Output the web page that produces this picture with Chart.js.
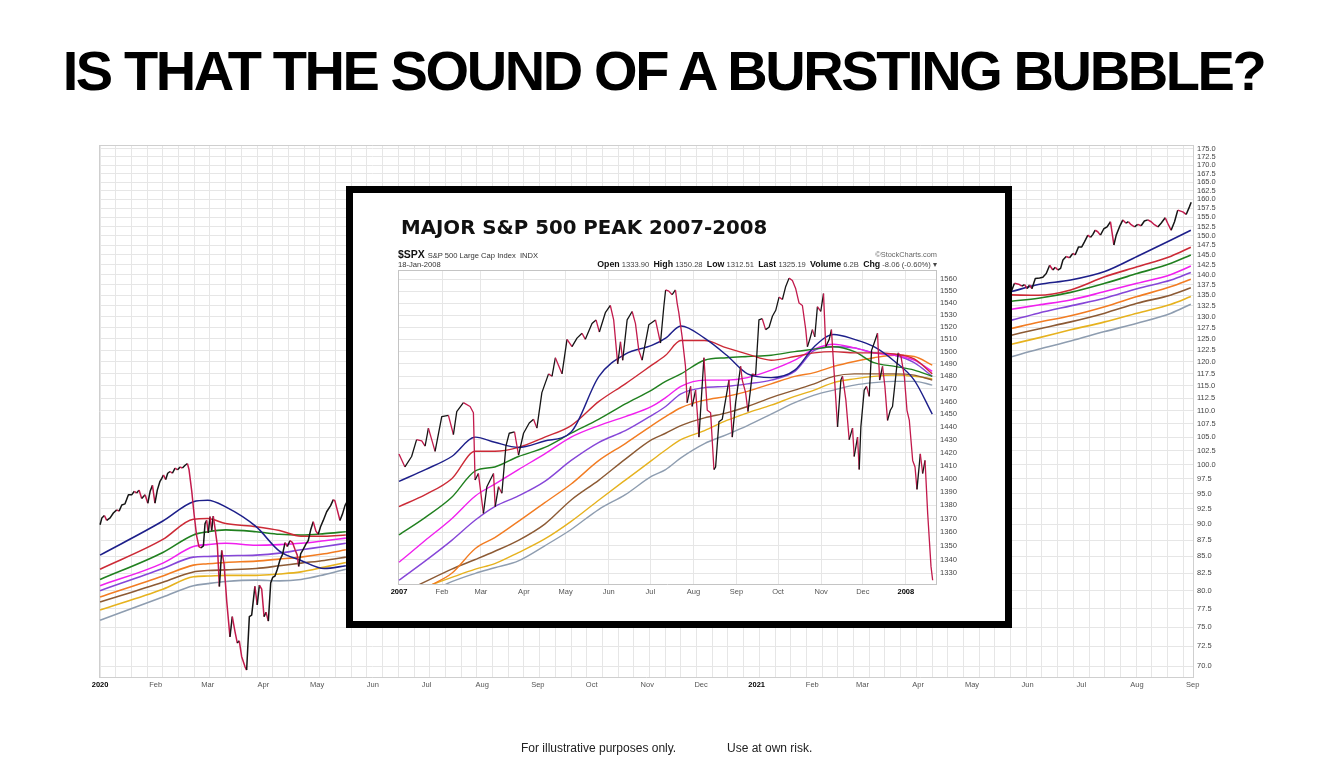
<!DOCTYPE html>
<html>
<head>
<meta charset="utf-8">
<script src="https://cdn.jsdelivr.net/npm/chart.js@4.4.1/dist/chart.umd.min.js"></script>
<style>
    body {
        margin: 0;
        width: 1341px;
        height: 776px;
        background: #fff;
        overflow: hidden;
        font-family: "Liberation Sans", Arial, sans-serif;
    }

    .abs {
        position: absolute;
        white-space: nowrap;
    }

    #headline {
        left: 0;
        top: 43px;
        width: 1327px;
        text-align: center;
        font-size: 56px;
        line-height: 56px;
        font-weight: bold;
        letter-spacing: -2.4px;
        color: #000;
    }

    #bgwrap {
        position: absolute;
        left: 0;
        top: 0;
        width: 1341px;
        height: 776px;
    }

    #frame {
        position: absolute;
        left: 346px;
        top: 186px;
        width: 666px;
        height: 442px;
        border: 7px solid #000;
        box-sizing: border-box;
        background: #fff;
    }

    #insetwrap {
        position: absolute;
        left: 353px;
        top: 193px;
        width: 652px;
        height: 428px;
    }

    #insettitle {
        left: 401px;
        top: 218px;
        font-family: "DejaVu Sans", sans-serif;
        font-weight: bold;
        font-size: 19.8px;
        line-height: 19.8px;
        color: #111;
    }

    #sym {
        left: 398px;
        top: 249px;
        font-size: 10px;
        line-height: 10px;
        color: #111;
    }

    #sym b {
        font-size: 10.5px;
    }

    #sym span {
        font-size: 7.6px;
        color: #333;
    }

    #date {
        left: 398px;
        top: 261px;
        font-size: 7.6px;
        line-height: 8px;
        color: #333;
    }

    #quote {
        right: 404px;
        top: 260px;
        font-size: 7.6px;
        line-height: 9px;
        color: #444;
    }

    #quote b {
        font-size: 8.8px;
        color: #111;
    }

    #credit {
        right: 404px;
        top: 251px;
        font-size: 7.4px;
        line-height: 8px;
        color: #666;
    }

    .foot {
        top: 742px;
        font-size: 12px;
        line-height: 12px;
        color: #222;
    }
</style>
</head>

<body>
    <div id="bgwrap"><canvas id="bgChart" width="1341" height="776"></canvas></div>
    <div class="abs" id="headline">IS THAT THE SOUND OF A BURSTING BUBBLE?</div>
    <div id="frame"></div>
    <div id="insetwrap"><canvas id="insetChart" width="652" height="428"></canvas></div>
    <div class="abs" id="insettitle">MAJOR S&amp;P 500 PEAK 2007-2008</div>
    <div class="abs" id="sym"><b>$SPX</b> <span>S&amp;P 500 Large Cap Index&nbsp; INDX</span></div>
    <div class="abs" id="date">18-Jan-2008</div>
    <div class="abs" id="credit">©StockCharts.com</div>
    <div class="abs" id="quote"><b>Open</b> 1333.90 &nbsp;<b>High</b> 1350.28 &nbsp;<b>Low</b> 1312.51 &nbsp;<b>Last</b> 1325.19 &nbsp;<b>Volume</b> 6.2B &nbsp;<b>Chg</b> -8.06 (-0.60%) ▾</div>
    <div class="abs foot" style="left:521px">For illustrative purposes only.</div>
    <div class="abs foot" style="left:727px">Use at own risk.</div>
</body>

<script>
    // ---- background chart (Jan 2020 - Sep 2021), x = days since 1 Jan 2020 ----
    var bgMonthDays = [0, 31, 60, 91, 121, 152, 182, 213, 244, 274, 305, 335, 366, 397, 425, 456, 486, 517, 547, 578, 609];
    var bgMonthLabels = ['2020', 'Feb', 'Mar', 'Apr', 'May', 'Jun', 'Jul', 'Aug', 'Sep', 'Oct', 'Nov', 'Dec',
        '2021', 'Feb', 'Mar', 'Apr', 'May', 'Jun', 'Jul', 'Aug', 'Sep'];
    var bgTicks = [70.0, 72.5, 75.0, 77.5, 80.0, 82.5, 85.0, 87.5, 90.0, 92.5, 95.0, 97.5, 100.0, 102.5, 105.0,
        107.5, 110.0, 112.5, 115.0, 117.5, 120.0, 122.5, 125.0, 127.5, 130.0, 132.5, 135.0, 137.5, 140.0, 142.5,
        145.0, 147.5, 150.0, 152.5, 155.0, 157.5, 160.0, 162.5, 165.0, 167.5, 170.0, 172.5, 175.0];

    var bgPriceLeftDays = [0, 1, 2.4, 3.7, 5.6, 7.4, 9.3, 10.6, 12.1, 13.9, 15.8, 17.6, 19.1, 20.4, 21.7, 23.2, 25.1,
        26.6, 27.9, 29.2, 30.6, 31.9, 33.4, 34.4, 35.3, 36.6, 37.7, 39, 40.3, 41.8, 43.2, 44.6, 45.9, 47.4, 48.7,
        49.6, 51.1, 52.4, 53.8, 55.1, 56.2, 57.6, 58.5, 59.4, 60.3, 61.3, 62.2, 63.1, 64.1, 65.4, 66.5, 67.8, 69.1,
        70.6, 72.4, 73.7, 75.2, 76.5, 77.6, 78.9, 80.8, 81.7, 83.2, 84.5, 86.3, 87.6, 88.8, 90.1, 91.4, 92.5, 93.8,
        95.1, 96.2, 97.5, 98.8, 100.3, 101.7, 103.1, 104.4, 105.8, 107.3, 108.6, 109.9, 110.7, 111.8, 113.3, 114.8,
        116, 117.4, 118.8, 120.3, 121.6, 122.9, 124.4, 126.3, 128.5, 130, 130.9, 132.2, 133.7, 135.2, 136.5, 137.4];
    var bgPriceLeft = [89.9, 91.0, 91.4, 90.6, 91.0, 91.8, 92.3, 92.1, 93.1, 93.3, 94.8, 94.8, 95.4, 95.1, 95.6,
        94.2, 94.8, 93.4, 95.4, 96.4, 93.4, 95.6, 97.1, 97.6, 98.2, 97.4, 98.5, 98.8, 98.5, 99.4, 99.1, 99.6, 99.4,
        99.9, 100.2, 99.1, 95.4, 91.6, 88.2, 86.5, 86.3, 86.6, 90.1, 90.6, 88.6, 91.2, 89.0, 91.3, 89.3, 86.6,
        80.6, 85.9, 83.9, 78.5, 73.7, 76.4, 74.4, 72.9, 73.2, 71.2, 69.9, 69.5, 76.4, 76.6, 80.6, 78.0, 80.8, 80.2,
        76.4, 77.0, 75.8, 81.1, 81.9, 82.1, 83.1, 84.5, 85.3, 87.1, 86.5, 87.4, 87.1, 86.1, 85.2, 83.5, 85.4, 86.1,
        86.9, 87.4, 89.1, 90.4, 88.9, 88.4, 89.6, 90.6, 92.0, 93.0, 94.0, 93.8, 92.3, 90.6, 91.7, 93.0, 93.5];

    var bgPriceRightDays = [507.9, 509.7, 512, 513.8, 515.3, 516.8, 518.1, 519.4, 521.3, 523.7, 525.5, 527.4, 529.3,
        531.1, 532.4, 533.9, 535.4, 536.7, 538.5, 540.4, 542.2, 543.5, 545.4, 547.2, 548.7, 550.6, 552.1, 553.4,
        554.7, 556.1, 557.6, 559.5, 561.3, 563.2, 565.1, 566.4, 568.2, 570.1, 571.9, 573.2, 574.7, 576.6, 578.4,
        580.3, 582.1, 584, 585.9, 587.7, 589.6, 591.4, 593.7, 595.1, 597, 598.9, 600.7, 603.5, 605.4, 607.2, 608.2];
    var bgPriceRight = [135.9, 137.9, 137.7, 137.2, 137.6, 136.6, 137.5, 136.6, 139.1, 139.2, 139.4, 140.3, 142.4,
        141.2, 141.9, 141.2, 141.6, 143.7, 144.6, 144.3, 145.4, 145.0, 147.1, 147.1, 148.4, 150.2, 149.6, 150.4,
        151.5, 151.1, 150.2, 151.9, 152.4, 153.8, 147.6, 150.2, 152.4, 154.3, 153.4, 153.8, 153.0, 152.4, 153.1,
        152.7, 154.0, 154.3, 153.8, 153.0, 152.4, 153.4, 154.9, 153.4, 151.5, 153.8, 157.0, 156.5, 155.8, 157.9, 159.2];

    // moving averages, the middle part is hidden behind the inset (null = no line)
    var bgMaDays = [0, 35, 52, 60, 70, 87, 100, 112, 125, 137, 320, 508, 523, 541, 560, 578, 597, 608];
    var bgBlue = [85.2, 90.5, 93.65, 93.9, 92.8, 89.6, 85.8, 84.4, 83.2, 83.6, null, 135.9, 137.6, 138.7, 140.8, 144.6, 148.9, 151.5];
    var bgRed = [83.1, 87.6, 90.8, 90.9, 90.1, 89.6, 89.0, 88.1, 88.1, 88.3, null, 135.1, 135.0, 136.3, 139.5, 142.0, 144.7, 147.0];
    var bgGreen = [81.6, 85.6, 88.3, 88.8, 89.1, 88.8, 88.4, 88.3, 88.5, 88.8, null, 133.6, 134.3, 135.7, 137.9, 140.3, 142.9, 145.0];
    var bgMagenta = [80.7, 84.0, 86.5, 86.8, 87.0, 86.7, 86.8, 87.0, 87.4, 87.8, null, 131.7, 132.7, 133.9, 135.9, 137.9, 140.1, 142.2];
    var bgPurple = [80.0, 83.2, 84.9, 85.0, 85.1, 85.2, 85.5, 86.0, 86.5, 87.0, null, 129.2, 130.8, 132.5, 134.3, 136.6, 138.7, 140.6];
    var bgOrange = [79.1, 82.1, 83.7, 83.9, 84.1, 84.3, 84.6, 84.9, 85.4, 86.0, null, 127.3, 128.7, 130.2, 132.3, 134.7, 137.1, 138.9];
    var bgBrown = [78.4, 81.2, 82.7, 82.9, 83.0, 83.2, 83.6, 84.0, 84.4, 84.9, null, 125.8, 127.2, 128.8, 130.8, 133.1, 135.1, 136.8];
    var bgYellow = [77.3, 80.2, 82.0, 82.1, 82.2, 82.2, 82.4, 82.7, 83.4, 84.1, null, 123.8, 125.2, 127.0, 128.8, 130.8, 132.9, 134.7];
    var bgGray = [75.9, 79.1, 80.7, 81.0, 81.3, 81.5, 81.4, 81.6, 82.3, 83.1, null, 121.1, 122.7, 124.5, 126.6, 128.5, 130.8, 132.9];

    // ---- inset chart ($SPX 2007 - Jan 2008), x = days since 1 Jan 2007 ----
    var insetMonthDays = [0, 31, 59, 90, 120, 151, 181, 212, 243, 273, 304, 334, 365];
    var insetMonthLabels = ['2007', 'Feb', 'Mar', 'Apr', 'May', 'Jun', 'Jul', 'Aug', 'Sep', 'Oct', 'Nov', 'Dec', '2008'];
    var insetTicks = [1330, 1340, 1350, 1360, 1370, 1380, 1390, 1400, 1410, 1420, 1430, 1440, 1450, 1460, 1470,
        1480, 1490, 1500, 1510, 1520, 1530, 1540, 1550, 1560];

    var insetPriceDays = [0, 4.3, 9.1, 12.7, 16.4, 18.8, 21.2, 26, 30.8, 35.6, 39.2, 41.6, 46.4, 51.2, 53.6, 54.8,
        57.2, 60.8, 63.3, 65.7, 68.1, 69.3, 71.7, 74.1, 77, 79.4, 83.2, 86.1, 89.7, 93.8, 96.9, 99.3, 102.9, 107.7,
        110.2, 112.6, 117.4, 121, 124.6, 128.2, 131.8, 134.2, 139, 141.9, 144.3, 148.6, 152.2, 154.6, 157.5, 159.5,
        161.1, 164.3, 167.9, 170.3, 172.7, 175.1, 179.9, 184.7, 188.3, 190.7, 192, 194.3, 196.7, 199.1, 200.3,
        201.5, 203.9, 206.3, 207.5, 210, 211.1, 213.6, 214.8, 216, 218.4, 219.6, 222, 224.4, 226.8, 228, 230.4,
        232.8, 236.4, 237.6, 240, 242.4, 246, 247.2, 249.6, 251.3, 254.4, 256.8, 259.2, 261.6, 264, 266.5, 268.9,
        271.3, 273.7, 276.1, 278.5, 280.9, 283.3, 285.7, 288.1, 290.5, 292.9, 294.1, 295.8, 297.7, 299.4, 301.3,
        303.7, 305.7, 307.3, 309.8, 311.4, 313.4, 315.8, 318.2, 319.4, 321.8, 324.2, 326.6, 327.8, 330.2, 331.4,
        332.6, 335, 336.7, 338.6, 340.3, 342.2, 344.6, 346.1, 348.2, 349.9, 351.8, 353.8, 355.4, 357.9, 359.5,
        361.5, 363.9, 365.8, 367.5, 369.9, 371.6, 373, 375.4, 377.1, 378.8, 380.7, 383.1, 384.3];
    var insetPrice = [1419, 1409, 1417, 1430, 1429, 1425, 1439, 1421, 1448, 1449, 1434, 1452, 1459, 1456, 1451, 1399,
        1404, 1374, 1394, 1399, 1404, 1379, 1394, 1389, 1425, 1435, 1436, 1418, 1435, 1443, 1446, 1439, 1467, 1482,
        1480, 1495, 1482, 1510, 1504, 1511, 1515, 1510, 1523, 1526, 1516, 1532, 1538, 1526, 1490, 1508, 1493, 1526,
        1533, 1523, 1501, 1493, 1522, 1526, 1507, 1537, 1551, 1550, 1547, 1551, 1540, 1532, 1512, 1488, 1459, 1472,
        1456, 1469, 1451, 1432, 1474, 1495, 1453, 1451, 1407, 1409, 1444, 1446, 1469, 1477, 1432, 1459, 1488, 1477,
        1467, 1452, 1482, 1481, 1526, 1527, 1518, 1520, 1529, 1534, 1545, 1543, 1554, 1561, 1559, 1552, 1540, 1538,
        1518, 1504, 1510, 1518, 1512, 1537, 1533, 1548, 1504, 1510, 1518, 1482, 1440, 1477, 1480, 1461, 1430, 1439,
        1417, 1432, 1407, 1440, 1469, 1472, 1464, 1501, 1507, 1515, 1477, 1488, 1472, 1445, 1453, 1456, 1482, 1499,
        1496, 1480, 1453, 1445, 1414, 1409, 1392, 1419, 1404, 1414, 1374, 1335, 1325];

    var insetMaDays = [0, 19, 38, 55, 69, 86, 105, 124, 144, 163, 182, 192, 203, 220, 236, 251, 268, 285, 299, 313, 328, 342, 357, 371, 384];
    var insetBlue = [1398, 1407, 1417, 1432, 1428, 1424, 1429, 1436, 1480, 1498, 1505, 1511, 1521, 1511, 1497, 1482, 1479, 1485, 1504, 1514, 1510, 1504, 1492, 1477, 1450];
    var insetRed = [1379, 1388, 1400, 1421, 1421, 1424, 1432, 1441, 1460, 1474, 1489, 1497, 1509, 1509, 1503, 1498, 1493, 1496, 1499, 1500, 1499, 1499, 1498, 1494, 1482];
    var insetGreen = [1358, 1371, 1386, 1406, 1409, 1417, 1424, 1435, 1446, 1458, 1469, 1476, 1482, 1493, 1495, 1496, 1497, 1500, 1502, 1504, 1500, 1491, 1488, 1485, 1480];
    var insetMagenta = [1338, 1354, 1370, 1387, 1396, 1407, 1419, 1432, 1441, 1448, 1456, 1463, 1472, 1477, 1477, 1479, 1485, 1493, 1502, 1506, 1503, 1499, 1497, 1493, 1484];
    var insetPurple = [1325, 1339, 1354, 1369, 1379, 1387, 1398, 1414, 1428, 1437, 1449, 1456, 1466, 1471, 1472, 1474, 1477, 1484, 1501, 1504, 1503, 1499, 1497, 1491, 1480];
    var insetOrange = [1303, 1319, 1330, 1348, 1356, 1368, 1382, 1396, 1414, 1427, 1441, 1448, 1455, 1461, 1464, 1468, 1474, 1480, 1483, 1488, 1492, 1495, 1497, 1496, 1489];
    var insetBrown = [1315, 1324, 1333, 1340, 1346, 1354, 1366, 1384, 1399, 1415, 1430, 1435, 1441, 1447, 1451, 1456, 1463, 1469, 1474, 1480, 1482, 1482, 1482, 1481, 1477];
    var insetYellow = [1312, 1320, 1327, 1333, 1337, 1345, 1355, 1368, 1384, 1399, 1414, 1422, 1430, 1437, 1445, 1451, 1457, 1464, 1469, 1475, 1478, 1480, 1481, 1480, 1478];
    var insetGray = [1307, 1315, 1324, 1330, 1334, 1339, 1350, 1362, 1377, 1388, 1402, 1407, 1416, 1427, 1434, 1441, 1450, 1459, 1465, 1469, 1473, 1475, 1476, 1476, 1473];

    // ---- styles ----
    var FONT = '"Liberation Sans", Arial, sans-serif';
    var UP = '#151515';
    var DOWN = '#c21a4c';
    var COLORS = {
        blue: '#1d1f8a', red: '#cc2a36', green: '#20801f', magenta: '#f020ee', purple: '#8646d8',
        orange: '#f27c22', brown: '#8c5a34', yellow: '#e6b21e', gray: '#8e9db0'
    };

    function points(days, vals) {
        return days.map(function (d, i) { return { x: d, y: vals[i] }; });
    }

    function priceSet(days, vals, w) {
        return {
            data: points(days, vals), borderColor: UP, borderWidth: w, order: 0,
            segment: {
                borderColor: function (c) { return c.p1.parsed.y < c.p0.parsed.y ? DOWN : UP; }
            }
        };
    }

    function maSet(days, vals, color, w) {
        return {
            data: points(days, vals), borderColor: color, borderWidth: w, order: 1, spanGaps: false,
            cubicInterpolationMode: 'monotone'
        };
    }

    function tickFont(labels) {
        return function (c) {
            var isYear = /^\d{4}$/.test(labels[c.index] || '');
            return { family: FONT, size: 7.5, weight: isYear ? 'bold' : 'normal' };
        };
    }

    function tickColor(labels) {
        return function (c) { return /^\d{4}$/.test(labels[c.index] || '') ? '#000' : '#555'; };
    }

    var common = {
        responsive: false,
        animation: false,
        events: [],
        elements: { point: { radius: 0 }, line: { tension: 0, borderJoinStyle: 'round' } },
        plugins: { legend: { display: false }, tooltip: { enabled: false } }
    };

    // background chart
    var bgMaList = [[bgBlue, 'blue'], [bgRed, 'red'], [bgGreen, 'green'], [bgMagenta, 'magenta'], [bgPurple, 'purple'],
        [bgOrange, 'orange'], [bgBrown, 'brown'], [bgYellow, 'yellow'], [bgGray, 'gray']];
    var bgSets = [priceSet(bgPriceLeftDays, bgPriceLeft, 1.5), priceSet(bgPriceRightDays, bgPriceRight, 1.5)];
    bgMaList.forEach(function (m) { bgSets.push(maSet(bgMaDays, m[0], COLORS[m[1]], 1.6)); });

    new Chart(document.getElementById('bgChart'), {
        type: 'line',
        data: { datasets: bgSets },
        options: Object.assign({}, common, {
            layout: { padding: { left: 99, top: 145, right: 120, bottom: 85 } },
            scales: {
                x: {
                    type: 'linear', position: 'bottom', min: -0.6, max: 609.2,
                    afterBuildTicks: function (s) { s.ticks = bgMonthDays.map(function (v) { return { value: v }; }); },
                    afterFit: function (s) { s.height = 14; },
                    grid: { display: false, drawTicks: false },
                    border: { display: true, color: '#cfcfcf' },
                    ticks: {
                        padding: 3, maxRotation: 0, autoSkip: false,
                        callback: function (v, i) { return bgMonthLabels[i]; },
                        font: tickFont(bgMonthLabels), color: tickColor(bgMonthLabels)
                    }
                },
                xg: {
                    type: 'linear', position: 'top', min: -0.6, max: 609.2,
                    afterBuildTicks: function (s) {
                        var t = [];
                        for (var d = 0; d <= 609; d += 8.75) t.push({ value: d });
                        s.ticks = t;
                    },
                    afterFit: function (s) { s.height = 0; },
                    ticks: { display: false },
                    grid: { color: '#e6e6e6', drawTicks: false },
                    border: { display: true, color: '#cfcfcf' }
                },
                y: {
                    type: 'logarithmic', position: 'right', min: 68.65, max: 176.2,
                    afterBuildTicks: function (s) { s.ticks = bgTicks.map(function (v) { return { value: v }; }); },
                    afterFit: function (s) { s.width = 28; },
                    grid: { color: '#e6e6e6', drawTicks: false },
                    border: { display: true, color: '#cfcfcf' },
                    ticks: {
                        padding: 4, autoSkip: false,
                        callback: function (v) { return Number(v).toFixed(1); },
                        font: { family: FONT, size: 7.5 }, color: '#444'
                    }
                },
                yg: {
                    type: 'linear', position: 'left', min: 0, max: 1,
                    afterFit: function (s) { s.width = 0; },
                    ticks: { display: false },
                    grid: { display: false, drawTicks: false },
                    border: { display: true, color: '#cfcfcf' }
                }
            }
        })
    });

    // inset chart
    var insetMaList = [[insetBlue, 'blue'], [insetRed, 'red'], [insetGreen, 'green'], [insetMagenta, 'magenta'],
        [insetPurple, 'purple'], [insetOrange, 'orange'], [insetBrown, 'brown'], [insetYellow, 'yellow'], [insetGray, 'gray']];
    var insetSets = [priceSet(insetPriceDays, insetPrice, 1.3)];
    insetMaList.forEach(function (m) { insetSets.push(maSet(insetMaDays, m[0], COLORS[m[1]], 1.4)); });

    new Chart(document.getElementById('insetChart'), {
        type: 'line',
        data: { datasets: insetSets },
        options: Object.assign({}, common, {
            layout: { padding: { left: 45, top: 77, right: 43, bottom: 23 } },
            scales: {
                x: {
                    type: 'linear', position: 'bottom', min: -0.7, max: 386.7,
                    afterBuildTicks: function (s) { s.ticks = insetMonthDays.map(function (v) { return { value: v }; }); },
                    afterFit: function (s) { s.height = 14; },
                    grid: { color: '#e6e6e6', drawTicks: false },
                    border: { display: true, color: '#c4c4c4' },
                    ticks: {
                        padding: 3, maxRotation: 0, autoSkip: false,
                        callback: function (v, i) { return insetMonthLabels[i]; },
                        font: tickFont(insetMonthLabels), color: tickColor(insetMonthLabels)
                    }
                },
                y: {
                    type: 'logarithmic', position: 'right', min: 1322.3, max: 1567.9,
                    afterBuildTicks: function (s) { s.ticks = insetTicks.map(function (v) { return { value: v }; }); },
                    afterFit: function (s) { s.width = 26; },
                    grid: { color: '#e6e6e6', drawTicks: false },
                    border: { display: true, color: '#c4c4c4' },
                    ticks: {
                        padding: 4, autoSkip: false,
                        callback: function (v) { return String(Math.round(v)); },
                        font: { family: FONT, size: 7.6 }, color: '#444'
                    }
                },
                xt: {
                    type: 'linear', position: 'top', min: 0, max: 1,
                    afterFit: function (s) { s.height = 0; },
                    ticks: { display: false },
                    grid: { display: false, drawTicks: false },
                    border: { display: true, color: '#c4c4c4' }
                },
                yl: {
                    type: 'linear', position: 'left', min: 0, max: 1,
                    afterFit: function (s) { s.width = 0; },
                    ticks: { display: false },
                    grid: { display: false, drawTicks: false },
                    border: { display: true, color: '#c4c4c4' }
                }
            }
        })
    });
</script>

</html>
